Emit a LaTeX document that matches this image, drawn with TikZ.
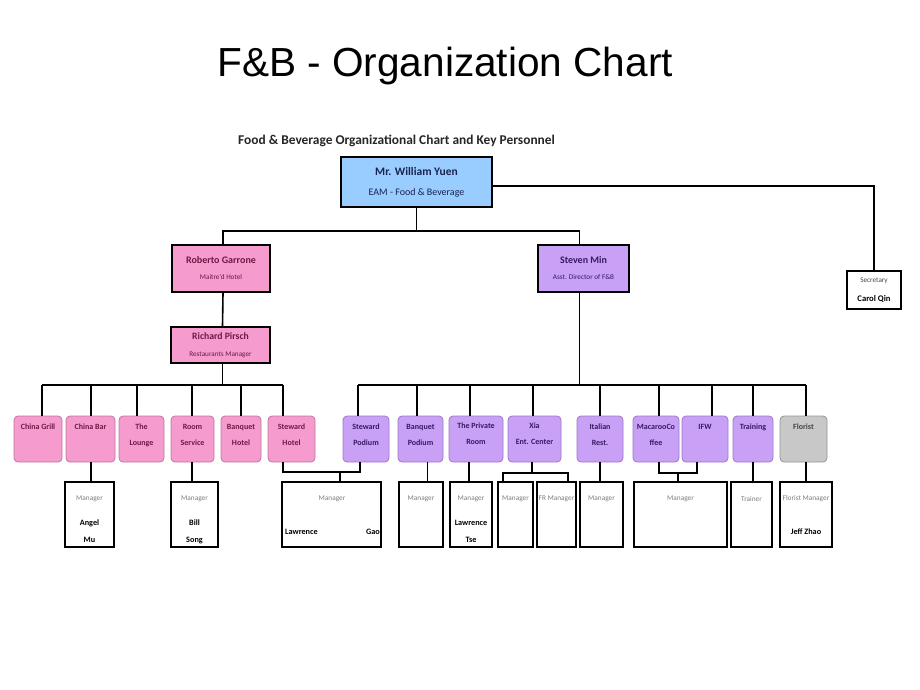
\documentclass[tikz,border=0pt]{standalone}
\usepackage{fontspec}
\setmainfont{Carlito}
\newfontfamily\titlefont{Liberation Sans}
\definecolor{pinkfill}{RGB}{245,155,205}
\definecolor{pinkline}{RGB}{190,120,160}
\definecolor{pinktext}{RGB}{110,25,70}
\definecolor{purpfill}{RGB}{200,160,245}
\definecolor{purpline}{RGB}{160,120,200}
\definecolor{purptext}{RGB}{55,25,100}
\definecolor{bluefill}{RGB}{153,204,255}
\definecolor{bluetext}{RGB}{25,35,80}
\definecolor{grayfill}{RGB}{200,200,200}
\definecolor{grayline}{RGB}{150,150,150}
\definecolor{graytext}{RGB}{70,70,70}
\definecolor{mgrtext}{RGB}{125,125,125}
\tikzset{
  conn/.style={line width=1.6pt, black},
  headbox/.style={draw=black, line width=2.2pt, inner sep=0pt, align=center},
  unitbox/.style={rounded corners=4pt, line width=0.8pt, inner sep=0pt, minimum height=46pt},
  pinkunit/.style={unitbox, draw=pinkline, fill=pinkfill},
  purpunit/.style={unitbox, draw=purpline, fill=purpfill},
  grayunit/.style={unitbox, draw=grayline, fill=grayfill},
  unittext/.style={font=\fontsize{8}{16}\selectfont\bfseries, align=center, inner sep=0pt},
  mgrbox/.style={draw=black, line width=2pt, fill=white, inner sep=0pt, minimum height=65pt},
  mgrlabel/.style={font=\fontsize{7.3}{8}\selectfont, text=mgrtext, inner sep=0pt},
  namelabel/.style={font=\fontsize{8.2}{9}\selectfont\bfseries, text=black, inner sep=0pt},
}
% #1 name, #2 style, #3 text colour, #4 centre x, #5 width, #6 text y, #7 text, #8 drop x
\newcommand{\unitnode}[8]{%
  \node[#2, minimum width=#5pt] (#1) at (#4,439) {};
  \node[unittext, text=#3] (#1t) at (#4,#6) {#7};
  \coordinate (#1d) at (#8,385);
}
% #1 name, #2 centre x, #3 width
\newcommand{\mgrnode}[3]{%
  \node[mgrbox, minimum width=#3pt] (#1) at (#2,514.5) {};
}
\begin{document}
\begin{tikzpicture}[x=1pt, y=-1pt]
\fill[white] (0,0) rectangle (920,690);
\useasboundingbox (0,0) rectangle (920,690);

% titles
\node[font=\titlefont\fontsize{40.6}{48}\selectfont, anchor=base west, inner sep=0pt] (title) at (217,77) {F\&B - Organization Chart};
\node[font=\fontsize{13.4}{15}\selectfont\bfseries, text=black!85, anchor=base west, inner sep=0pt] (subtitle) at (238,144) {Food \& Beverage Organizational Chart and Key Personnel};

% head boxes
\node[headbox, fill=bluefill, text=bluetext, minimum width=151pt, minimum height=50pt,
      font=\fontsize{11.5}{20}\selectfont] (wy) at (416.5,182)
  {\textbf{Mr. William Yuen}\\{\fontsize{10}{20}\selectfont EAM - Food \& Beverage}};
\node[headbox, fill=pinkfill, text=pinktext, minimum width=98pt, minimum height=47pt,
      font=\fontsize{10}{16}\selectfont] (rg) at (221,268.5)
  {\textbf{Roberto Garrone}\\{\fontsize{7.2}{16}\selectfont Maitre'd Hotel}};
\node[headbox, fill=pinkfill, text=pinktext, minimum width=99pt, minimum height=36pt,
      font=\fontsize{9.7}{17}\selectfont] (rp) at (220.5,345)
  {\textbf{Richard Pirsch}\\{\fontsize{7.2}{17}\selectfont Restaurants Manager}};
\node[headbox, fill=purpfill, text=purptext, minimum width=91pt, minimum height=47pt,
      font=\fontsize{10}{16}\selectfont] (sm) at (583.5,268.5)
  {\textbf{Steven Min}\\{\fontsize{7.2}{16}\selectfont Asst. Director of F\&B}};
\node[headbox, line width=2pt, fill=white, text=black, minimum width=54pt, minimum height=38pt,
      font=\fontsize{8.6}{19}\selectfont] (sec) at (874,290)
  {{\fontsize{7.2}{19}\selectfont\color{graytext}Secretary}\\\textbf{Carol Qin}};

% unit row
\unitnode{cg}{pinkunit}{pinktext}{38}{48}{427}{China Grill}{42}
\unitnode{cb}{pinkunit}{pinktext}{90.5}{49}{427}{China Bar}{91}
\unitnode{tl}{pinkunit}{pinktext}{141.5}{45}{435}{The\\Lounge}{137}
\unitnode{rs}{pinkunit}{pinktext}{192.5}{43}{435}{Room\\Service}{192}
\unitnode{bh}{pinkunit}{pinktext}{241}{40}{435}{Banquet\\Hotel}{241}
\unitnode{sh}{pinkunit}{pinktext}{291.5}{47}{435}{Steward\\Hotel}{283}
\unitnode{sp}{purpunit}{purptext}{366}{46}{435}{Steward\\Podium}{358}
\unitnode{bp}{purpunit}{purptext}{420.5}{45}{435}{Banquet\\Podium}{417}
\unitnode{pr}{purpunit}{purptext}{476}{54}{434}{The Private\\Room}{470}
\unitnode{xa}{purpunit}{purptext}{534.5}{53}{434}{Xia\\Ent. Center}{533}
\unitnode{it}{purpunit}{purptext}{600}{46}{435}{Italian\\Rest.}{600}
\unitnode{mc}{purpunit}{purptext}{656}{46}{435}{MacarooCo\\ffee}{659}
\unitnode{ifw}{purpunit}{purptext}{705}{46}{427}{IFW}{712}
\unitnode{tr}{purpunit}{purptext}{753}{40}{427}{Training}{753}
\unitnode{fl}{grayunit}{graytext}{803.5}{47}{427}{Florist}{806}

% manager boxes
\mgrnode{am}{89.5}{49}
\mgrnode{bs}{194.5}{47}
\mgrnode{lg}{331.5}{99}
\mgrnode{bpm}{421}{44}
\mgrnode{prm}{471}{42}
\mgrnode{xm1}{515.5}{35}
\mgrnode{xm2}{556.5}{39}
\mgrnode{itm}{601.5}{43}
\mgrnode{mim}{680.5}{93}
\mgrnode{trm}{751.5}{41}
\mgrnode{flm}{806}{52}

% manager texts
\node[mgrlabel] (am1) at (89.5,499) {Manager};
\node[namelabel] (am2) at (89.5,523) {Angel};
\node[namelabel] (am3) at (89.5,540) {Mu};
\node[mgrlabel] (bs1) at (194.5,499) {Manager};
\node[namelabel] (bs2) at (194.5,523) {Bill};
\node[namelabel] (bs3) at (194.5,540) {Song};
\node[mgrlabel] (lg1) at (332,499) {Manager};
\node[namelabel, anchor=west] (lg2) at (285,532) {Lawrence};
\node[namelabel, anchor=east] (lg3) at (380,532) {Gao};
\node[mgrlabel] (bpm1) at (421,499) {Manager};
\node[mgrlabel] (prm1) at (471,499) {Manager};
\node[namelabel] (prm2) at (471,523) {Lawrence};
\node[namelabel] (prm3) at (471,540) {Tse};
\node[mgrlabel] (xm11) at (515.5,499) {Manager};
\node[mgrlabel] (xm21) at (556.5,499) {FR Manager};
\node[mgrlabel] (itm1) at (601.5,499) {Manager};
\node[mgrlabel] (mim1) at (680.5,499) {Manager};
\node[mgrlabel] (trm1) at (751.5,499) {Trainer};
\node[mgrlabel] (flm1) at (806,499) {Florist Manager};
\node[namelabel] (flm2) at (806,532) {Jeff Zhao};

% connectors: top level
\coordinate (topbus) at (417,231);
\draw[conn] (wy.south) -- (wy.south |- topbus);
\draw[conn] ([xshift=2pt]rg.north) -- ([xshift=2pt]rg.north |- topbus) -- ([xshift=-4pt]sm.north |- topbus) -- ([xshift=-4pt]sm.north);
\draw[conn] ([yshift=-4pt]wy.east) -| (sec.north);
\draw[conn] ([xshift=2pt]rg.south) -- ([xshift=2pt]rp.north);

% unit buses
\draw[conn] ([xshift=2pt]rp.south) -- ([xshift=2pt]rp.south |- cgd);
\draw[conn] (cgd) -- (shd);
\draw[conn] ([xshift=-4pt]sm.south) -- ([xshift=-4pt]sm.south |- cgd);
\draw[conn] (spd) -- (fld);
\foreach \n in {cg,cb,tl,rs,bh,sh,sp,bp,pr,xa,it,mc,ifw,tr,fl}
  \draw[conn] (\n d) -- (\n d |- \n.north);

% manager connectors
\draw[conn] ([xshift=0.5pt]cb.south) -- ([xshift=0.5pt]cb.south |- am.north);
\draw[conn] ([xshift=-0.5pt]rs.south) -- ([xshift=-0.5pt]rs.south |- bs.north);
\coordinate (lgbus) at (340,472);
\draw[conn] (shd |- sh.south) -- (shd |- lgbus) -- ([xshift=-6pt]sp.south |- lgbus) -- ([xshift=-6pt]sp.south);
\draw[conn] (lgbus) -- (lgbus |- lg.north);
\draw[conn] ([xshift=7pt]bp.south) -- ([xshift=7pt]bp.south |- bpm.north);
\draw[conn] ([xshift=-2pt]prm.north) -- ([xshift=-2pt]prm.north |- pr.south);
\coordinate (xabus) at (532,473);
\draw[conn] (xabus |- xa.south) -- (xabus);
\draw[conn] ([xshift=-12.5pt]xm1.north) |- (xabus) -| ([xshift=11.5pt]xm2.north);
\draw[conn] (it.south) -- (it.south |- itm.north);
\coordinate (mibus) at (678,473);
\draw[conn] ([xshift=3pt]mc.south) |- (mibus) -| ([xshift=-8pt]ifw.south);
\draw[conn] (mibus) -- (mibus |- mim.north);
\draw[conn] (trd |- tr.south) -- (trd |- trm.north);
\draw[conn] (fld |- fl.south) -- (fld |- flm.north);
\end{tikzpicture}
\end{document}
